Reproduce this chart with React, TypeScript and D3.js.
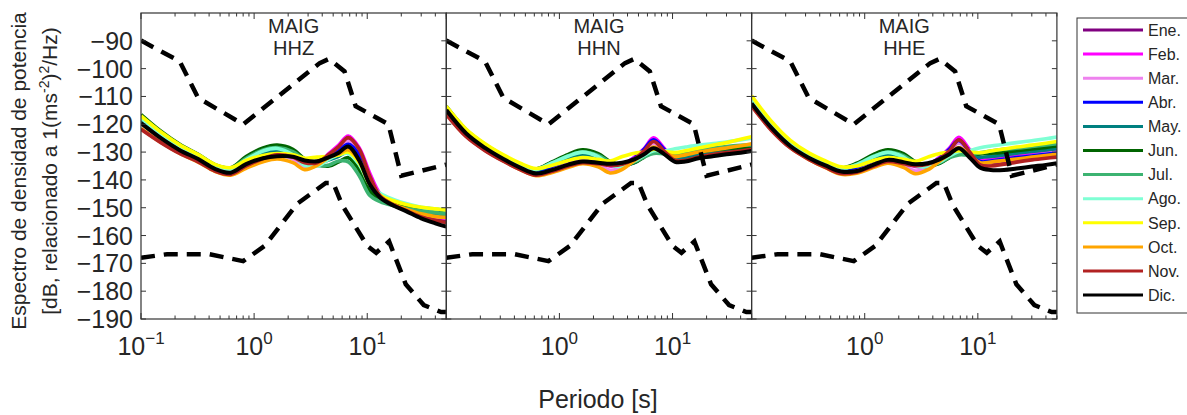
import React from 'react';
import * as d3 from 'd3';

// ---------- DATA ----------
const station = 'MAIG';
const channels = ['HHZ', 'HHN', 'HHE'];
const months = ['Ene.', 'Feb.', 'Mar.', 'Abr.', 'May.', 'Jun.', 'Jul.', 'Ago.', 'Sep.', 'Oct.', 'Nov.', 'Dic.'];
const monthColors = ['#800080', '#ff00ff', '#ee82ee', '#0000ff', '#008080', '#006400', '#3cb371', '#7fffd4', '#ffff00', '#ffa500', '#b22222', '#000000'];

const periods = [0.1, 0.15, 0.22, 0.32, 0.45, 0.62, 0.85, 1.2, 1.6, 2.2, 2.8, 3.6, 4.6, 5.6, 6.8, 8.5, 10.5, 13, 17, 22, 30, 40, 50];

const hhzValues = [
  [-119.0, -124.5, -128.8, -132.0, -135.3, -136.5, -133.0, -130.3, -129.2, -130.5, -133.5, -133.5, -131.0, -128.5, -125.5, -130.0, -139.5, -145.8, -148.8, -150.5, -152.8, -154.2, -155.0],
  [-119.3, -124.8, -129.0, -132.3, -135.6, -137.0, -134.0, -131.5, -130.2, -131.3, -134.2, -134.2, -130.5, -127.5, -124.2, -128.5, -137.5, -145.0, -148.5, -150.3, -152.2, -153.2, -153.8],
  [-119.5, -124.9, -129.2, -132.5, -135.8, -137.2, -134.3, -131.8, -130.8, -132.5, -135.5, -134.8, -131.2, -128.5, -126.0, -130.0, -139.0, -145.5, -148.5, -150.3, -152.0, -153.0, -153.5],
  [-118.8, -124.3, -128.6, -131.8, -135.2, -136.6, -133.6, -131.0, -130.0, -131.0, -133.6, -133.8, -131.3, -129.5, -127.2, -131.0, -140.0, -145.6, -148.3, -149.8, -151.2, -152.0, -152.6],
  [-118.6, -124.0, -128.3, -131.6, -135.0, -136.4, -133.2, -130.3, -129.5, -130.8, -133.5, -134.2, -132.8, -131.5, -130.0, -134.5, -142.5, -146.8, -148.8, -150.0, -151.3, -152.3, -153.0],
  [-116.5, -122.5, -127.2, -130.8, -134.5, -135.6, -131.6, -128.5, -127.5, -129.0, -132.5, -134.5, -135.0, -133.5, -132.0, -136.5, -144.0, -147.0, -148.5, -149.3, -150.0, -150.6, -151.0],
  [-117.3, -123.0, -127.6, -131.0, -134.6, -135.8, -132.2, -129.2, -128.4, -129.8, -132.8, -134.8, -134.6, -133.2, -133.5, -138.5, -145.5, -147.8, -149.3, -150.3, -151.2, -151.8, -152.3],
  [-117.8, -123.4, -127.9, -131.3, -135.0, -136.2, -132.8, -129.6, -128.7, -131.0, -134.8, -135.0, -132.5, -131.0, -130.5, -134.5, -141.5, -144.8, -147.0, -148.5, -149.8, -150.4, -150.8],
  [-117.0, -122.8, -127.4, -130.9, -134.4, -135.6, -133.0, -131.2, -130.5, -131.0, -132.2, -131.8, -131.5, -131.0, -130.0, -133.8, -141.5, -145.5, -147.5, -148.8, -149.8, -150.4, -150.8],
  [-121.5, -126.5, -130.5, -133.6, -136.9, -138.3, -135.8, -133.5, -132.5, -133.8, -136.3, -134.8, -131.8, -130.6, -129.2, -133.0, -141.0, -146.0, -148.8, -150.5, -152.2, -153.2, -153.5],
  [-121.8, -126.6, -130.5, -133.5, -136.8, -138.0, -135.0, -132.3, -131.0, -131.8, -133.8, -133.8, -130.8, -128.0, -124.8, -129.0, -138.5, -145.8, -149.0, -151.0, -153.3, -154.6, -155.3],
  [-119.6, -125.0, -129.3, -132.5, -136.0, -137.4, -134.3, -132.2, -131.5, -131.7, -133.0, -133.3, -131.8, -130.2, -128.0, -133.0, -141.5, -146.3, -149.2, -151.2, -153.8, -155.6, -156.8],
];

const hhnValues = [
  [-114.5, -122.8, -128.0, -132.0, -135.0, -136.8, -134.8, -132.4, -131.2, -132.5, -134.5, -134.4, -132.0, -129.6, -126.5, -129.5, -132.8, -132.5, -131.2, -130.5, -129.6, -128.8, -128.2],
  [-114.7, -123.0, -128.2, -132.2, -135.3, -137.2, -135.5, -133.3, -132.2, -133.3, -135.0, -134.6, -131.8, -128.8, -124.9, -128.8, -132.5, -132.2, -130.8, -130.0, -129.0, -128.2, -127.6],
  [-114.8, -123.1, -128.3, -132.3, -135.4, -137.3, -135.8, -133.6, -132.6, -134.4, -136.5, -135.4, -132.2, -129.5, -126.8, -129.8, -132.6, -132.0, -130.6, -129.8, -129.0, -128.4, -128.0],
  [-114.4, -122.7, -127.9, -131.9, -135.0, -136.9, -135.2, -132.8, -131.8, -132.8, -134.3, -134.2, -132.2, -129.0, -125.6, -129.2, -132.8, -132.6, -131.3, -130.5, -129.6, -128.9, -128.5],
  [-114.2, -122.5, -127.7, -131.7, -134.7, -136.4, -134.5, -132.0, -131.0, -132.5, -134.5, -135.0, -133.8, -131.5, -129.2, -130.5, -132.2, -131.8, -130.8, -130.2, -129.5, -129.0, -128.8],
  [-113.6, -122.0, -127.3, -131.3, -134.4, -136.1, -133.6, -130.8, -129.2, -130.6, -133.4, -134.6, -133.8, -131.8, -129.6, -130.4, -130.6, -130.4, -129.8, -129.3, -128.8, -128.4, -128.0],
  [-114.0, -122.3, -127.5, -131.5, -134.6, -136.2, -134.0, -131.3, -130.0, -131.2, -133.6, -134.6, -133.5, -131.8, -130.5, -130.6, -130.5, -130.0, -129.2, -128.6, -128.0, -127.6, -127.4],
  [-114.0, -122.2, -127.4, -131.4, -134.6, -136.2, -134.0, -131.4, -130.0, -131.6, -134.6, -135.0, -133.2, -131.2, -129.5, -129.6, -128.8, -128.2, -127.5, -127.0, -126.4, -125.6, -125.0],
  [-113.6, -121.8, -127.0, -131.0, -134.0, -135.9, -134.8, -133.0, -132.0, -132.6, -133.2, -131.6, -130.4, -130.0, -129.0, -129.8, -130.2, -129.5, -128.5, -127.6, -126.6, -125.4, -124.5],
  [-116.2, -124.3, -129.3, -133.2, -136.3, -138.5, -137.4, -135.5, -134.2, -135.3, -137.5, -136.2, -133.0, -130.6, -128.2, -130.2, -131.6, -131.0, -130.0, -129.3, -128.5, -127.7, -127.0],
  [-116.5, -124.5, -129.5, -133.3, -136.3, -138.3, -137.0, -135.0, -133.8, -134.2, -134.8, -134.4, -132.4, -129.6, -126.2, -129.8, -133.0, -133.0, -131.8, -131.0, -130.2, -129.6, -129.0],
  [-114.9, -123.3, -128.5, -132.5, -135.6, -137.7, -136.5, -134.5, -133.4, -133.8, -134.2, -133.8, -132.6, -130.8, -128.6, -130.8, -133.5, -133.4, -132.2, -131.6, -130.8, -130.2, -129.6],
];

const hheValues = [
  [-111.8, -120.6, -127.2, -131.5, -134.2, -136.2, -135.2, -132.6, -130.8, -132.2, -134.6, -134.5, -132.0, -129.6, -126.5, -130.2, -133.6, -133.8, -133.4, -132.8, -132.0, -131.2, -130.6],
  [-112.0, -120.8, -127.4, -131.7, -134.5, -136.6, -135.8, -133.4, -131.8, -133.2, -135.2, -134.8, -131.8, -128.6, -124.7, -129.2, -132.8, -132.6, -132.0, -131.3, -130.6, -129.8, -129.4],
  [-112.2, -121.0, -127.5, -131.8, -134.6, -136.7, -136.0, -133.8, -132.4, -134.6, -136.8, -135.6, -132.2, -129.4, -126.6, -130.4, -133.6, -133.4, -132.8, -132.2, -131.4, -130.6, -130.2],
  [-111.6, -120.4, -127.0, -131.3, -134.1, -136.2, -135.4, -133.0, -131.6, -132.8, -134.4, -134.4, -132.2, -129.0, -125.8, -130.0, -133.4, -133.2, -132.6, -132.0, -131.4, -130.8, -130.4],
  [-111.4, -120.2, -126.8, -131.1, -134.0, -135.9, -134.8, -132.2, -130.8, -132.4, -134.6, -135.2, -134.0, -131.6, -129.4, -130.8, -131.8, -131.6, -131.0, -130.4, -129.8, -129.2, -128.8],
  [-110.5, -119.6, -126.4, -130.8, -133.8, -135.7, -134.0, -130.8, -129.2, -130.6, -133.4, -134.8, -134.0, -132.0, -129.8, -130.6, -130.6, -130.4, -130.0, -129.5, -128.9, -128.3, -127.8],
  [-111.0, -119.9, -126.6, -130.9, -133.9, -135.8, -134.4, -131.5, -130.0, -131.3, -133.8, -134.9, -133.8, -132.0, -131.0, -131.0, -130.2, -129.6, -129.0, -128.6, -128.0, -127.4, -127.0],
  [-110.8, -119.8, -126.5, -130.9, -133.9, -135.9, -134.5, -131.6, -130.1, -131.8, -134.8, -135.2, -133.5, -131.4, -129.8, -129.4, -128.4, -127.8, -127.2, -126.6, -125.9, -125.2, -124.6],
  [-109.8, -119.0, -125.8, -130.3, -133.2, -135.3, -135.0, -133.0, -132.0, -132.6, -133.3, -131.8, -130.5, -130.0, -129.5, -130.0, -130.2, -129.6, -128.9, -128.2, -127.5, -126.8, -126.2],
  [-113.2, -122.0, -128.4, -132.6, -135.6, -138.0, -137.6, -135.5, -134.0, -135.5, -137.8, -136.4, -133.2, -130.8, -128.4, -131.2, -133.8, -133.6, -133.0, -132.5, -131.8, -131.2, -130.8],
  [-113.5, -122.2, -128.5, -132.6, -135.5, -137.7, -137.2, -135.0, -133.4, -134.2, -134.9, -134.4, -132.4, -129.6, -125.6, -130.0, -134.6, -135.0, -134.4, -133.6, -132.8, -132.2, -131.8],
  [-112.5, -121.3, -127.8, -132.0, -134.8, -137.0, -136.8, -134.5, -132.8, -133.6, -134.4, -134.0, -132.6, -130.8, -128.6, -132.0, -135.6, -136.4, -136.4, -135.9, -135.2, -134.6, -134.0],
];

const channelValues = [hhzValues, hhnValues, hheValues];

// Noise model reference curves (dashed)
const nhnmPeriods = [0.1, 0.22, 0.32, 0.8, 3.8, 4.6, 6.3, 7.9, 15.4, 20, 50];
const nhnmValues = [-89.9, -97.4, -110.5, -120.0, -98.0, -96.5, -101.0, -113.5, -120.0, -138.5, -134.5];
const nlnmPeriods = [0.1, 0.17, 0.4, 0.8, 1.24, 2.4, 4.3, 5.0, 6.0, 10.0, 12.0, 15.6, 21.9, 31.6, 45, 50];
const nlnmValues = [-168.0, -166.7, -166.7, -169.2, -163.7, -148.6, -141.1, -141.1, -149.0, -163.7, -166.2, -162.1, -177.5, -185.0, -187.5, -187.5];

const yTicks = [-190, -180, -170, -160, -150, -140, -130, -120, -110, -100, -90];
const xMajorTicks = [0.1, 1, 10];
const xMajorExp = ['−1', '0', '1'];

// ---------- LAYOUT ----------
const W = 1187;
const H = 415;
const TOP = 13;
const BOTTOM = 319;
const LEFT0 = 141;
const PANEL_W = 305.3;
const FONT = 'Liberation Sans, Arial, Helvetica, sans-serif';
const AXIS = '#333333';
const TXT = '#262626';

export default function App() {
  const y = d3.scaleLinear().domain([-190, -80]).range([BOTTOM, TOP]);
  const minorTicks: number[] = [];
  [-1, 0, 1].forEach((e) => {
    for (let m = 1; m <= 9; m++) {
      const v = m * Math.pow(10, e);
      if (v <= 50.0001) minorTicks.push(v);
    }
  });

  const panels = channels.map((ch, pi) => {
    const left = LEFT0 + pi * PANEL_W;
    const x = d3.scaleLog().domain([0.1, 50]).range([left, left + PANEL_W]);
    const smooth = d3
      .line<number>()
      .x((_, i) => x(periods[i]))
      .y((d) => y(d))
      .curve(d3.curveCatmullRom.alpha(0.5));
    const straight = (ps: number[]) =>
      d3
        .line<number>()
        .x((_, i) => x(ps[i]))
        .y((d) => y(d));
    const clipId = `clip-${pi}`;
    const cx = left + PANEL_W / 2;
    return (
      <g key={ch}>
        <defs>
          <clipPath id={clipId}>
            <rect x={left} y={TOP} width={PANEL_W} height={BOTTOM - TOP} />
          </clipPath>
        </defs>
        <g clipPath={`url(#${clipId})`}>
          {channelValues[pi].map((vals, mi) => (
            <path
              key={mi}
              d={smooth(vals) || ''}
              fill="none"
              stroke={monthColors[mi]}
              strokeWidth={mi === 11 ? 4 : 3.6}
              strokeLinejoin="round"
            />
          ))}
          <path d={straight(nhnmPeriods)(nhnmValues) || ''} fill="none" stroke="#000" strokeWidth={4.5} strokeDasharray="14 9" />
          <path d={straight(nlnmPeriods)(nlnmValues) || ''} fill="none" stroke="#000" strokeWidth={4.5} strokeDasharray="14 9" />
        </g>
        {/* ticks */}
        {yTicks.map((t) => (
          <g key={t}>
            <line x1={left} x2={left + 5} y1={y(t)} y2={y(t)} stroke={AXIS} strokeWidth={1} />
            <line x1={left + PANEL_W - 5} x2={left + PANEL_W} y1={y(t)} y2={y(t)} stroke={AXIS} strokeWidth={1} />
          </g>
        ))}
        {minorTicks.map((t) => {
          const isMajor = xMajorTicks.includes(t);
          const len = isMajor ? 6 : 3.5;
          return (
            <g key={t}>
              <line x1={x(t)} x2={x(t)} y1={BOTTOM} y2={BOTTOM - len} stroke={AXIS} strokeWidth={1} />
              <line x1={x(t)} x2={x(t)} y1={TOP} y2={TOP + len} stroke={AXIS} strokeWidth={1} />
            </g>
          );
        })}
        <rect x={left} y={TOP} width={PANEL_W} height={BOTTOM - TOP} fill="none" stroke={AXIS} strokeWidth={1.2} />
        {/* x tick labels */}
        {xMajorTicks.map((t, i) =>
          pi > 0 && i === 0 ? null : (
            <text key={t} x={x(t)} y={355} textAnchor="middle" fontSize={25} fill={TXT} fontFamily={FONT}>
              <tspan>10</tspan>
              <tspan dy={-11} fontSize={17}>{xMajorExp[i]}</tspan>
            </text>
          )
        )}
        {/* title (two lines) */}
        <text x={cx} y={33} textAnchor="middle" fontSize={20} fill={TXT} fontFamily={FONT}>
          {station}
        </text>
        <text x={cx} y={55} textAnchor="middle" fontSize={20} fill={TXT} fontFamily={FONT}>
          {ch}
        </text>
      </g>
    );
  });

  return (
    <svg
      width={W}
      height={H}
      viewBox={`0 0 ${W} ${H}`}
      style={{ position: 'absolute', left: 0, top: 0, background: '#fff' }}
      fontFamily={FONT}
    >
      <rect x={0} y={0} width={W} height={H} fill="#fff" />
      {panels}
      {/* y tick labels */}
      {yTicks.map((t) => (
        <text key={t} x={133} y={y(t)} dy="0.36em" textAnchor="end" fontSize={25} fill={TXT}>
          {t < 0 ? `−${Math.abs(t)}` : `${t}`}
        </text>
      ))}
      {/* y label */}
      <text transform="translate(26,171) rotate(-90)" textAnchor="middle" fontSize={21} fill={TXT}>
        Espectro de densidad de potencia
      </text>
      <text transform="translate(57,171) rotate(-90)" textAnchor="middle" fontSize={21} fill={TXT}>
        <tspan>[dB, relacionado a 1(ms</tspan>
        <tspan dy={-8} fontSize={14}>-2</tspan>
        <tspan dy={8}>)</tspan>
        <tspan dy={-8} fontSize={14}>2</tspan>
        <tspan dy={8}>/Hz)</tspan>
      </text>
      {/* x label */}
      <text x={598} y={408} textAnchor="middle" fontSize={25} fill={TXT}>
        Periodo [s]
      </text>
      {/* legend */}
      <rect x={1077} y={18} width={130} height={295} fill="#fff" stroke={AXIS} strokeWidth={1} />
      {months.map((m, i) => {
        const ly = 30 + i * 24.1;
        return (
          <g key={m}>
            <line x1={1083} x2={1143} y1={ly} y2={ly} stroke={monthColors[i]} strokeWidth={3} />
            <text x={1148} y={ly} dy="0.36em" fontSize={16} fill={TXT}>
              {m}
            </text>
          </g>
        );
      })}
    </svg>
  );
}
